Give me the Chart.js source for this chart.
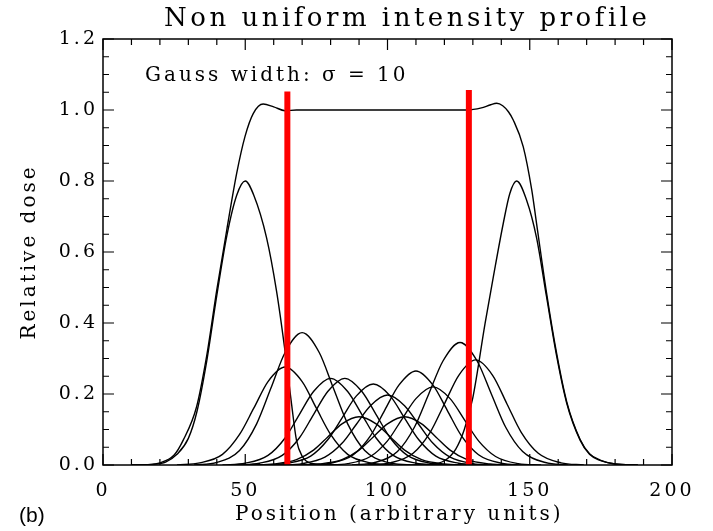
<!DOCTYPE html>
<html>
<head>
<meta charset="utf-8">
<title>Non uniform intensity profile</title>
<script src="https://cdn.jsdelivr.net/npm/chart.js@4.4.1/dist/chart.umd.min.js"></script>
<style>
  html, body { margin: 0; padding: 0; background: #fff; }
</style>
</head>
<body>
<canvas id="myChart" width="713" height="531"></canvas>
<script>
// Текст
const chartTitle = "Non uniform intensity profile";
const xTitle = "Position (arbitrary units)";
const yTitle = "Relative dose";
const noteText = "Gauss width: σ = 10";
const panelTag = "(b)";

// Деления осей
const xTicks = [0, 50, 100, 150, 200];
const yTicks = [0, 0.2, 0.4, 0.6, 0.8, 1.0, 1.2];

// Красные границы поля [x, верх]
const markerLeft = [64.8, 1.052];
const markerRight = [128.6, 1.056];

// Суммарный профиль [x, доза]
const sumCurve = [
  [10, 0], [16, 0.001], [20, 0.006], [25, 0.028], [28.2, 0.07], [32.9, 0.164],
  [36.4, 0.305], [40, 0.493], [43.5, 0.662], [47, 0.822], [49.9, 0.925],
  [52.8, 0.99], [56.3, 1.017], [60, 1.009], [64, 0.998], [68, 1.0], [80, 1.0],
  [95, 1.0], [110, 1.0], [124, 1.0], [128, 1.0], [133, 1.006], [136, 1.014],
  [138.4, 1.019], [140.5, 1.012], [142.5, 0.995], [144.2, 0.972], [147.7, 0.897],
  [150.7, 0.775], [152.4, 0.68], [155.9, 0.485], [159.5, 0.312], [163, 0.178],
  [167.7, 0.072], [171, 0.032], [174.7, 0.014], [180, 0.003], [188, 0]
];

// Крайние пучки
const beamLeft = [
  [10, 0], [18, 0.002], [22, 0.008], [26, 0.03], [30, 0.075], [33, 0.15],
  [36.4, 0.29], [40, 0.478], [43.5, 0.645], [47, 0.76], [50, 0.8], [53, 0.76],
  [57.5, 0.64], [61, 0.49], [64, 0.32], [66.3, 0.17], [68, 0.07], [70, 0.025],
  [73, 0.005], [80, 0]
];
const beamRight = [
  [105, 0], [115, 0.002], [120, 0.012], [124, 0.045], [127, 0.1], [130, 0.19],
  [134.3, 0.399], [137.2, 0.53], [140.7, 0.681], [143, 0.765], [145.4, 0.8],
  [148.9, 0.746], [152.4, 0.64], [155.9, 0.474], [159.5, 0.305], [163, 0.174],
  [167.7, 0.07], [171, 0.03], [174.7, 0.013], [180, 0.003], [188, 0]
];

// Малые пучки внутри поля
const beam64 = [[26, 0], [34, 0.006], [42, 0.03], [48, 0.086], [53, 0.16], [58, 0.235], [64, 0.276], [70, 0.235], [75, 0.16], [80, 0.086], [86, 0.03], [94, 0.006], [102, 0]];
const beam70 = [[32, 0], [40, 0.007], [48, 0.041], [54, 0.116], [59, 0.216], [64, 0.317], [70, 0.373], [76, 0.317], [81, 0.216], [86, 0.116], [92, 0.041], [100, 0.007], [108, 0]];
const beam80 = [[42, 0], [50, 0.005], [58, 0.027], [64, 0.076], [69, 0.142], [74, 0.207], [80, 0.244], [86, 0.207], [91, 0.142], [96, 0.076], [102, 0.027], [110, 0.005], [118, 0]];
const beam85 = [[47, 0], [55, 0.005], [63, 0.027], [69, 0.076], [74, 0.142], [79, 0.207], [85, 0.244], [91, 0.207], [96, 0.142], [101, 0.076], [107, 0.027], [115, 0.005], [123, 0]];
const beam90 = [[52, 0], [60, 0.003], [68, 0.015], [74, 0.042], [79, 0.079], [84, 0.116], [90, 0.136], [96, 0.116], [101, 0.079], [106, 0.042], [112, 0.015], [120, 0.003], [128, 0]];
const beam95 = [[57, 0], [65, 0.005], [73, 0.025], [79, 0.071], [84, 0.132], [89, 0.194], [95, 0.228], [101, 0.194], [106, 0.132], [111, 0.071], [117, 0.025], [125, 0.005], [133, 0]];
const beam100 = [[62, 0], [70, 0.004], [78, 0.022], [84, 0.061], [89, 0.114], [94, 0.167], [100, 0.197], [106, 0.167], [111, 0.114], [116, 0.061], [122, 0.022], [130, 0.004], [138, 0]];
const beam106 = [[68, 0], [76, 0.003], [84, 0.015], [90, 0.042], [95, 0.079], [100, 0.116], [106, 0.136], [112, 0.116], [117, 0.079], [122, 0.042], [128, 0.015], [136, 0.003], [144, 0]];
const beam110 = [[72, 0], [80, 0.005], [88, 0.029], [94, 0.082], [99, 0.154], [104, 0.225], [110, 0.265], [116, 0.225], [121, 0.154], [126, 0.082], [132, 0.029], [140, 0.005], [148, 0]];
const beam116 = [[78, 0], [86, 0.004], [94, 0.024], [100, 0.068], [105, 0.128], [110, 0.187], [116, 0.22], [122, 0.187], [127, 0.128], [132, 0.068], [138, 0.024], [146, 0.004], [154, 0]];
const beam125 = [[87.5, 0], [95.5, 0.007], [103.5, 0.038], [109.5, 0.107], [114.5, 0.2], [119.5, 0.293], [125.5, 0.345], [131.5, 0.293], [136.5, 0.2], [141.5, 0.107], [147.5, 0.038], [155.5, 0.007], [163.5, 0]];
const beam131 = [[93, 0], [101, 0.006], [109, 0.033], [115, 0.092], [120, 0.172], [125, 0.252], [131, 0.296], [137, 0.252], [142, 0.172], [147, 0.092], [153, 0.033], [161, 0.006], [169, 0]];

const curves = [sumCurve, beamLeft, beamRight, beam64, beam70, beam80, beam85, beam90,
  beam95, beam100, beam106, beam110, beam116, beam125, beam131];

const toPoints = (list) => list.map((p) => ({ x: p[0], y: p[1] }));

Chart.defaults.font.family = "'DejaVu Serif', serif";
Chart.defaults.color = "#000";

const datasets = [
  {
    data: [{ x: markerLeft[0], y: 0 }, { x: markerLeft[0], y: markerLeft[1] }],
    borderColor: "#ff0000",
    borderWidth: 6,
    pointRadius: 0,
  },
  {
    data: [{ x: markerRight[0], y: 0 }, { x: markerRight[0], y: markerRight[1] }],
    borderColor: "#ff0000",
    borderWidth: 6,
    pointRadius: 0,
  },
];
curves.forEach((c) => {
  datasets.push({
    data: toPoints(c),
    borderColor: "#000",
    borderWidth: 1.4,
    pointRadius: 0,
    cubicInterpolationMode: "monotone",
  });
});

// Рамка с внутренними штрихами, заголовки и метка панели
const frame = {
  id: "frame",
  beforeDraw(chart) {
    chart.ctx.letterSpacing = "3px";
  },
  afterDraw(chart) {
    const ctx = chart.ctx;
    const { left, right, top, bottom } = chart.chartArea;
    const x = chart.scales.x;
    const y = chart.scales.y;
    ctx.save();
    ctx.strokeStyle = "#000";
    ctx.lineWidth = 1.5;
    ctx.strokeRect(left, top, right - left, bottom - top);
    ctx.lineWidth = 1.2;
    ctx.beginPath();
    for (let v = 0; v <= 200; v += 10) {
      const px = x.getPixelForValue(v);
      const len = v % 50 === 0 ? 11 : 6;
      ctx.moveTo(px, bottom);
      ctx.lineTo(px, bottom - len);
      ctx.moveTo(px, top);
      ctx.lineTo(px, top + len);
    }
    for (let i = 0; i <= 24; i++) {
      const py = y.getPixelForValue(i * 0.05);
      const len = i % 4 === 0 ? 11 : 6;
      ctx.moveTo(left, py);
      ctx.lineTo(left + len, py);
      ctx.moveTo(right, py);
      ctx.lineTo(right - len, py);
    }
    ctx.stroke();

    ctx.fillStyle = "#000";
    ctx.textBaseline = "middle";
    ctx.textAlign = "left";
    ctx.letterSpacing = "3.5px";
    ctx.font = "26px 'DejaVu Serif'";
    ctx.fillText(chartTitle, 164, 19);
    ctx.letterSpacing = "3px";
    ctx.font = "20px 'DejaVu Serif'";
    ctx.fillText(noteText, 145, y.getPixelForValue(1.097));
    ctx.fillText(xTitle, 235, 515);
    ctx.letterSpacing = "0px";
    ctx.font = "21px 'Liberation Sans'";
    ctx.fillText(panelTag, 19, 516);
    ctx.restore();
  },
};

const config = {
  type: "line",
  data: { datasets: datasets },
  options: {
    responsive: false,
    animation: false,
    events: [],
    layout: { padding: { left: 0, right: 41, top: 39, bottom: 0 } },
    scales: {
      x: {
        type: "linear",
        min: 0,
        max: 200,
        grid: { display: false, drawTicks: false },
        border: { display: false },
        afterBuildTicks: (scale) => {
          scale.ticks = xTicks.map((v) => ({ value: v }));
        },
        afterFit: (scale) => {
          scale.height = 66;
        },
        ticks: { font: { size: 19 }, padding: 15, maxRotation: 0, autoSkip: false },
      },
      y: {
        type: "linear",
        min: 0,
        max: 1.2,
        grid: { display: false, drawTicks: false },
        border: { display: false },
        afterBuildTicks: (scale) => {
          scale.ticks = yTicks.map((v) => ({ value: v }));
        },
        afterFit: (scale) => {
          scale.width = 103;
        },
        ticks: {
          font: { size: 19 },
          padding: 5,
          callback: (v) => Number(v).toFixed(1),
        },
        title: {
          display: true,
          text: yTitle,
          font: { size: 20 },
          padding: { top: 18, bottom: 0 },
        },
      },
    },
    plugins: {
      legend: { display: false },
      tooltip: { enabled: false },
    },
  },
  plugins: [frame],
};

const myChart = new Chart(document.getElementById("myChart"), config);
</script>
</body>
</html>
